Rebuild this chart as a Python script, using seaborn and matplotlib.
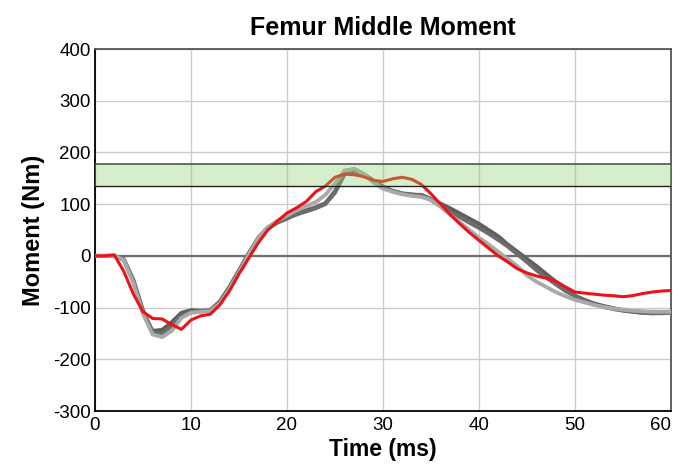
import matplotlib
matplotlib.use("Agg")
import matplotlib.pyplot as plt
import seaborn as sns
import pandas as pd
import numpy as np

time_ms = list(range(0, 61))

red_curve = [0, 0, 2, -30, -74, -108, -121, -122, -133, -142,
             -124, -116, -113, -95, -68, -35, -5, 25, 50, 67,
             83, 93, 105, 124, 135, 152, 158, 157, 153, 146,
             144, 149, 152, 148, 138, 120, 100, 80, 62, 45,
             30, 15, 0, -12, -25, -33, -39, -43, -49, -60,
             -70, -72, -74, -76, -77, -79, -77, -73, -70, -68, -67]

dark_gray_1 = [0, 0, 0, -8, -50, -110, -145, -143, -128, -110,
               -105, -106, -105, -88, -60, -28, 5, 35, 55, 66,
               74, 82, 88, 94, 102, 125, 162, 168, 158, 145,
               133, 125, 120, 118, 118, 110, 101, 92, 82, 72,
               62, 50, 38, 22, 8, -6, -20, -35, -50, -65,
               -77, -85, -92, -97, -101, -105, -108, -110, -111, -110, -109]

dark_gray_2 = [0, 0, 0, -6, -46, -105, -148, -150, -135, -115,
               -108, -107, -106, -90, -62, -30, 3, 33, 53, 64,
               72, 80, 86, 92, 100, 122, 158, 164, 157, 146,
               134, 126, 121, 119, 117, 108, 96, 85, 75, 64,
               54, 43, 31, 18, 3, -12, -28, -42, -55, -68,
               -78, -86, -93, -99, -103, -106, -108, -110, -111, -111, -110]

light_gray = [0, 0, 0, -8, -52, -112, -152, -157, -145, -120,
              -110, -108, -107, -92, -64, -32, 2, 34, 55, 68,
              78, 88, 96, 104, 118, 140, 165, 168, 158, 142,
              130, 124, 119, 116, 114, 108, 95, 80, 65, 50,
              35, 22, 8, -6, -20, -38, -50, -60, -70, -78,
              -85, -90, -95, -99, -102, -104, -106, -107, -108, -108, -108]

series_names = ["Test A", "Test B", "Test C", "Model"]
series_values = [dark_gray_1, dark_gray_2, light_gray, red_curve]
series_colors = ["#5e5e5e", "#6c6c6c", "#a9a9a9", "#e8141a"]
series_widths = [2.8, 2.8, 2.8, 2.2]

band_low = 136
band_high = 178

x_ticks = [0, 10, 20, 30, 40, 50, 60]
y_ticks = [-300, -200, -100, 0, 100, 200, 300, 400]

rows = []
for name, vals in zip(series_names, series_values):
    for t, v in zip(time_ms, vals):
        rows.append({"Time": t, "Moment": v, "Series": name})
df = pd.DataFrame(rows)

sns.set_style("white")
plt.rcParams['font.family'] = ['Liberation Sans', 'DejaVu Sans']
plt.rcParams['text.color'] = 'black'
plt.rcParams['axes.labelcolor'] = 'black'
plt.rcParams['xtick.color'] = 'black'
plt.rcParams['ytick.color'] = 'black'

fig = plt.figure(figsize=(6.81, 4.70), dpi=100)
ax = fig.add_axes([0.1395, 0.1255, 0.8458, 0.7702])

for name, col, lw in zip(series_names, series_colors, series_widths):
    sub = df[df["Series"] == name]
    sns.lineplot(data=sub, x="Time", y="Moment", color=col, linewidth=lw,
                 estimator=None, sort=False, ax=ax, zorder=3)

ax.axhline(0, color="#6e6e6e", linewidth=1.6, zorder=2)
ax.axhspan(band_low, band_high, facecolor="#8fcf6a", alpha=0.35,
           edgecolor="none", zorder=4)
ax.axhline(band_high, color="#555555", linewidth=1.2, zorder=4)
ax.axhline(band_low, color="#222222", linewidth=1.0, zorder=4)

ax.set_xlim(0, 60)
ax.set_ylim(-300, 400)
ax.set_xticks(x_ticks)
ax.set_yticks(y_ticks)
ax.set_xticklabels([str(v) for v in x_ticks])
ax.set_yticklabels([str(v) for v in y_ticks])
ax.grid(True, color="#cccccc", linewidth=1.0, zorder=0)
ax.set_axisbelow(True)

ax.tick_params(axis="both", direction="in", length=5, width=1.0,
               labelsize=13.5, colors="black", labelcolor="black", pad=3)
ax.tick_params(axis="x", pad=4)
labels = ax.get_xticklabels()
labels[-1].set_horizontalalignment("right")
labels[-1].set_x(60)

for side in ["left", "bottom"]:
    ax.spines[side].set_color("black")
    ax.spines[side].set_linewidth(1.3)
for side in ["top", "right"]:
    ax.spines[side].set_color("#555555")
    ax.spines[side].set_linewidth(1.3)

ax.set_xlabel("Time (ms)", fontsize=16.5, fontweight="bold", labelpad=3, color="black")
ax.set_ylabel("Moment (Nm)", fontsize=17, fontweight="bold", labelpad=6, color="black")
ax.set_title("Femur Middle Moment", fontsize=18, fontweight="bold", pad=10, color="black")

fig.savefig("out.png", dpi=100)
